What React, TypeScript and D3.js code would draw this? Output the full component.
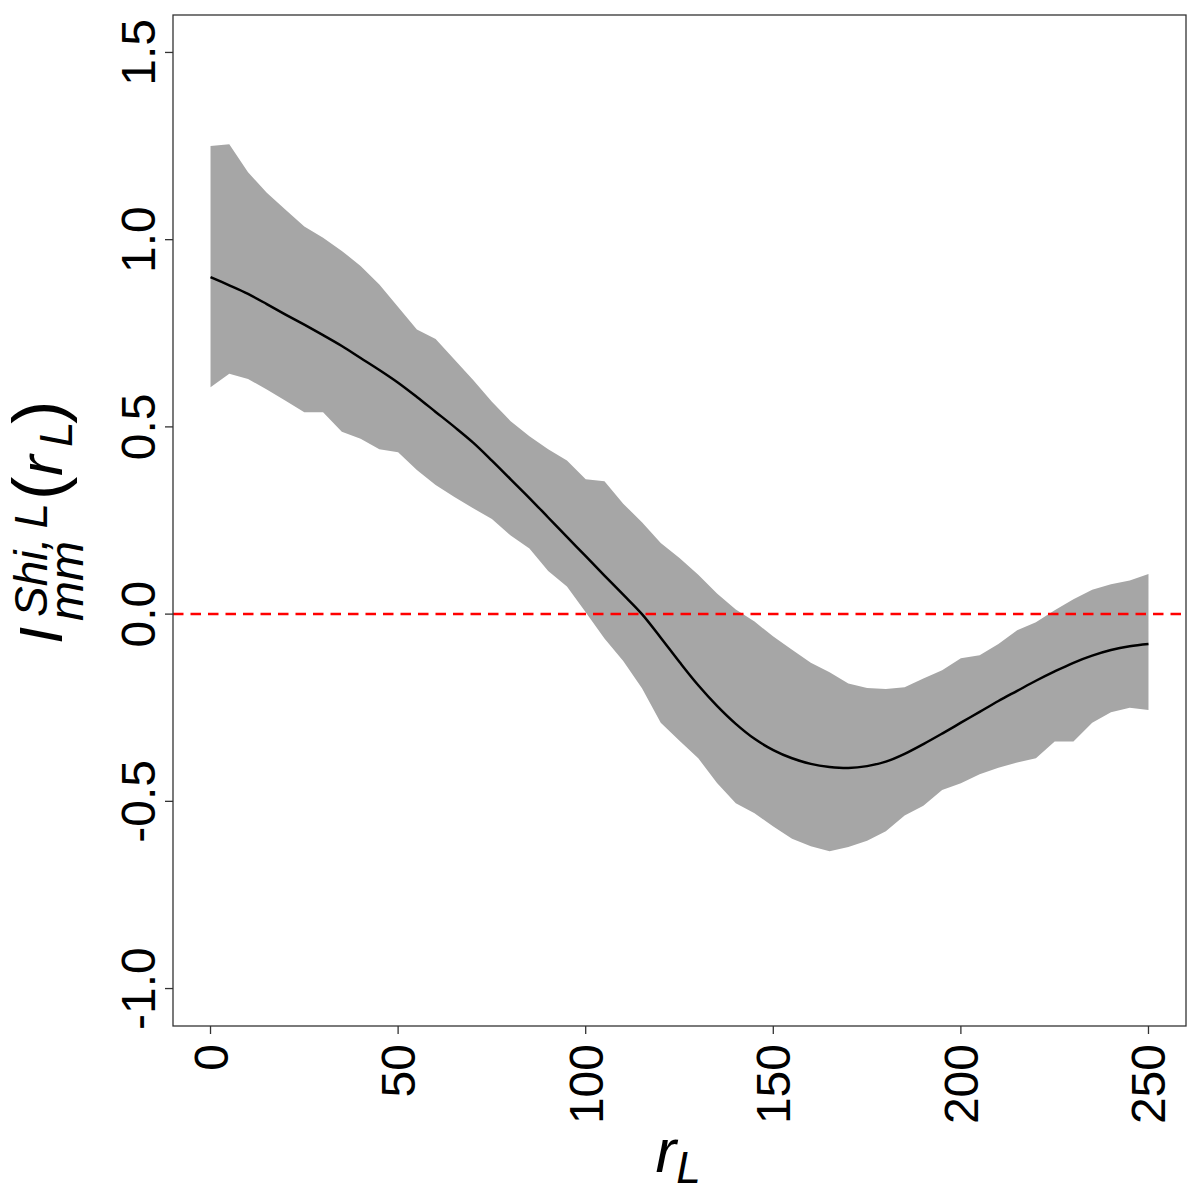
import * as d3 from "d3";

// r_L grid (step 5) and curves
const rGrid = d3.range(0, 251, 5);

const upper = [
  1.25, 1.255, 1.18, 1.125, 1.08, 1.035, 1.005, 0.97, 0.93, 0.88, 0.82,
  0.76, 0.735, 0.68, 0.625, 0.567, 0.515, 0.475, 0.44, 0.41, 0.36,
  0.355, 0.295, 0.245, 0.19, 0.15, 0.105, 0.055, 0.012, -0.02, -0.06,
  -0.095, -0.13, -0.155, -0.185, -0.197, -0.2, -0.195, -0.172, -0.15, -0.118,
  -0.11, -0.08, -0.043, -0.022, 0.01, 0.04, 0.065, 0.08, 0.09, 0.107,
];

const lower = [
  0.606, 0.642, 0.628, 0.6, 0.57, 0.539, 0.539, 0.487, 0.468, 0.44, 0.432,
  0.385, 0.345, 0.313, 0.283, 0.254, 0.21, 0.175, 0.115, 0.074, 0.005,
  -0.065, -0.125, -0.198, -0.29, -0.338, -0.385, -0.451, -0.505, -0.532, -0.567,
  -0.6, -0.62, -0.633, -0.622, -0.605, -0.58, -0.538, -0.512, -0.47, -0.452,
  -0.428, -0.41, -0.396, -0.385, -0.34, -0.34, -0.29, -0.262, -0.25, -0.256,
];

const mean = [
  0.9, 0.878, 0.855, 0.828, 0.8, 0.773, 0.745, 0.716, 0.684, 0.652, 0.618,
  0.58, 0.54, 0.5, 0.458, 0.41, 0.36, 0.31, 0.258, 0.206, 0.155,
  0.103, 0.052, 0.0, -0.063, -0.128, -0.19, -0.245, -0.293, -0.333, -0.363,
  -0.385, -0.4, -0.408, -0.411, -0.406, -0.394, -0.373, -0.347, -0.319, -0.29,
  -0.261, -0.232, -0.205, -0.178, -0.153, -0.13, -0.111, -0.096, -0.086, -0.08,
];

const xTicks = [0, 50, 100, 150, 200, 250];
const yTicks = [-1.0, -0.5, 0.0, 0.5, 1.0, 1.5];

const W = 1200;
const H = 1200;
const left = 173;
const right = 1186;
const top = 15;
const bottom = 1026;
const font = "'Liberation Sans', Arial, Helvetica, sans-serif";

export default function App() {
  const x = d3.scaleLinear().domain([-10, 260]).range([left, right]);
  const y = d3.scaleLinear().domain([-1.1, 1.6]).range([bottom, top]);

  const band = d3
    .area<number>()
    .x((_, i) => x(rGrid[i]))
    .y0((_, i) => y(lower[i]))
    .y1((d) => y(d))(upper);

  const line = d3
    .line<number>()
    .x((_, i) => x(rGrid[i]))
    .y((d) => y(d))
    .curve(d3.curveCatmullRom.alpha(0.5))(mean);

  return (
    <svg
      width={W}
      height={H}
      style={{ position: "absolute", left: 0, top: 0, background: "#fff" }}
      fontFamily={font}
    >
      <path d={band ?? ""} fill="#a6a6a6" />
      <line
        x1={left}
        x2={right}
        y1={y(0)}
        y2={y(0)}
        stroke="#ff0000"
        strokeWidth={2.5}
        strokeDasharray="10.5,7"
      />
      <path d={line ?? ""} fill="none" stroke="#000" strokeWidth={2.5} />
      <rect
        x={left}
        y={top}
        width={right - left}
        height={bottom - top}
        fill="none"
        stroke="#333"
        strokeWidth={1.3}
      />

      {/* y axis */}
      {yTicks.map((t) => (
        <g key={"y" + t}>
          <line x1={left - 8} x2={left} y1={y(t)} y2={y(t)} stroke="#333" strokeWidth={1.3} />
          <text
            transform={`translate(155,${y(t)}) rotate(-90)`}
            textAnchor="middle"
            fontSize={48}
          >
            {t.toFixed(1)}
          </text>
        </g>
      ))}

      {/* x axis */}
      {xTicks.map((t) => (
        <g key={"x" + t}>
          <line x1={x(t)} x2={x(t)} y1={bottom} y2={bottom + 8} stroke="#333" strokeWidth={1.3} />
          <text
            transform={`translate(${x(t) + 17},1044) rotate(-90)`}
            textAnchor="end"
            fontSize={48}
          >
            {t}
          </text>
        </g>
      ))}

      {/* x title */}
      <text x={(left + right) / 2 - 24} y={1172} fontSize={62} fontStyle="italic">
        r
        <tspan fontSize={44} dy={11}>L</tspan>
      </text>

      {/* y title */}
      <g transform="translate(62,520) rotate(-90)">
        <text x={-124} y={0} fontSize={62} fontStyle="italic">I</text>
        <text x={-97} y={-15} fontSize={46} fontStyle="italic">{"Shi,\u2009L"}</text>
        <text x={-101} y={21} fontSize={48} fontStyle="italic">mm</text>
        <text x={20} y={0} fontSize={70}>(</text>
        <text x={44} y={0} fontSize={62} fontStyle="italic">r</text>
        <text x={73} y={10} fontSize={46} fontStyle="italic">L</text>
        <text x={96} y={0} fontSize={70}>)</text>
      </g>
    </svg>
  );
}
